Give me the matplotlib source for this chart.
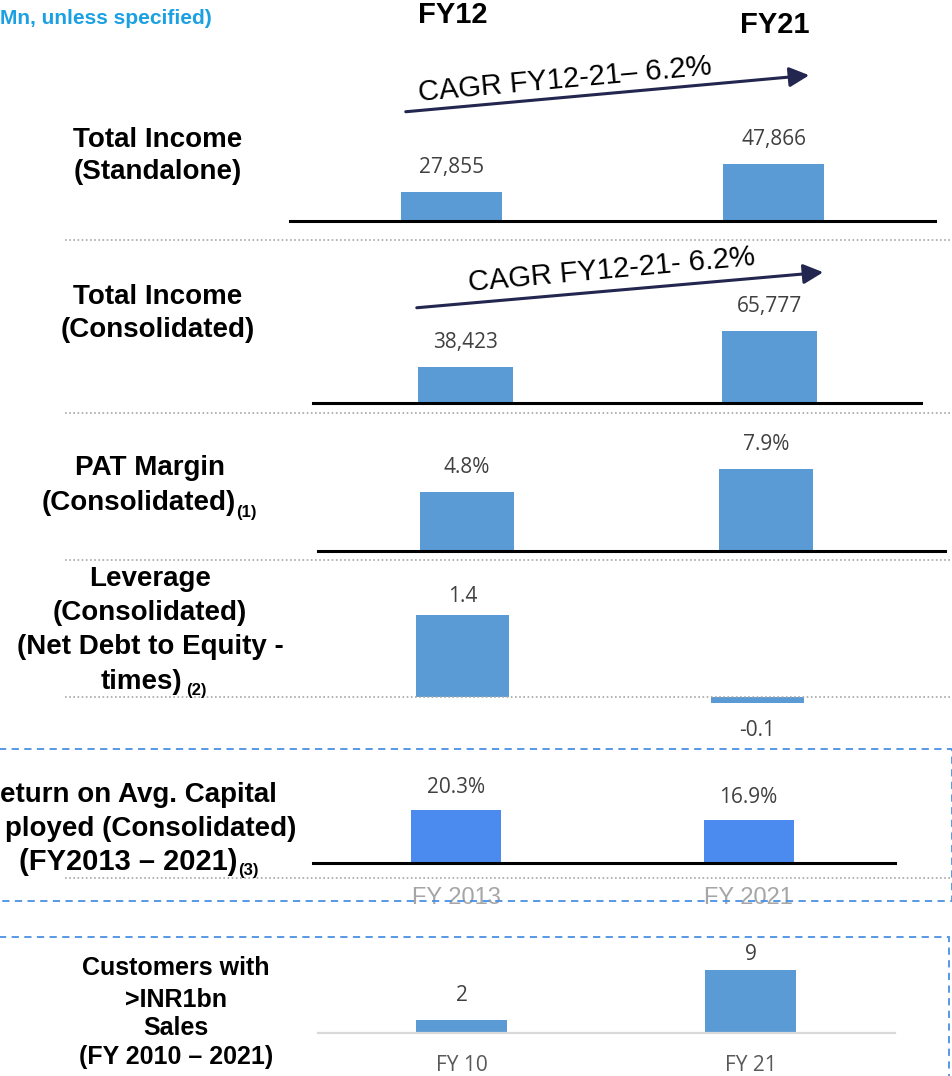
import matplotlib
matplotlib.use("Agg")
import matplotlib.pyplot as plt
from matplotlib.patches import Rectangle, FancyArrowPatch

# ---------------- data ----------------
periods_main = ["FY12", "FY21"]
total_income_standalone = [27855, 47866]
total_income_consolidated = [38423, 65777]
pat_margin = [4.8, 7.9]
leverage = [1.4, -0.1]
roace_categories = ["FY 2013", "FY 2021"]
roace = [20.3, 16.9]
customers_categories = ["FY 10", "FY 21"]
customers = [2, 9]
cagr_labels = ["CAGR FY12-21\u2013 6.2%", "CAGR FY12-21- 6.2%"]

W, H = 953, 1076
fig = plt.figure(figsize=(W / 100, H / 100), dpi=100)
fig.patch.set_facecolor("white")

ARIAL = "Liberation Sans"
LBL = "Open Sans"
BAR = "#5b9bd5"
BAR2 = "#4b8bf0"


def px_axes(x0, x1, ytop, ybot):
    ax = fig.add_axes([x0 / W, 1 - ybot / H, (x1 - x0) / W, (ybot - ytop) / H])
    ax.patch.set_alpha(0)
    return ax


def bar_panel(vals, x0, x1, ytop, ybase, c0, c1, wpx, ymin, k, color=BAR,
              fmt="{:,.0f}", offs=(25, 25), spine=("black", 2.2), cats=None,
              catcolor="#595959", catfont=LBL, catsize=14, catpad=18, from_axis=True):
    ax = px_axes(x0, x1, ytop, ybase)
    unit = c1 - c0
    xs = list(range(len(vals)))
    if from_axis:
        ax.bar(xs, [v - ymin for v in vals], bottom=ymin, width=wpx / unit, color=color, zorder=2)
    else:
        ax.bar(xs, vals, width=wpx / unit, color=color, zorder=2)
    ax.set_xlim((x0 - c0) / unit, (x1 - c0) / unit)
    ax.set_ylim(ymin, ymin + (ybase - ytop) / k)
    for s in ("top", "right", "left"):
        ax.spines[s].set_visible(False)
    if spine is None:
        ax.spines["bottom"].set_visible(False)
    else:
        ax.spines["bottom"].set_color(spine[0])
        ax.spines["bottom"].set_linewidth(spine[1])
    ax.set_yticks([])
    if cats is None:
        ax.set_xticks([])
    else:
        ax.set_xticks(xs)
        ax.set_xticklabels(cats, color=catcolor, fontsize=catsize, family=catfont)
        ax.tick_params(axis="x", length=0, pad=catpad)
    for x, v, o in zip(xs, vals, offs):
        dy = o * 72 / 100 * (1 if v >= 0 else -1)
        ax.annotate(fmt.format(v), xy=(x, v), xytext=(0, dy), textcoords="offset points",
                    ha="center", va="center", fontsize=15, family=LBL, color="#404040",
                    annotation_clip=False)
    return ax


# Panel 1: Total income standalone
bar_panel(total_income_standalone, 290, 935, 110, 221, 451.5, 773.5, 101, 7129, 0.001399)
# Panel 2: Total income consolidated
bar_panel(total_income_consolidated, 313, 921, 290, 403, 465.5, 769.5, 95, 11069, 0.001316)
# Panel 3: PAT margin
bar_panel(pat_margin, 318, 945, 430, 551, 467, 766, 94, -3.15, 7.42, fmt="{:.1f}%")
# Panel 4: Leverage
bar_panel(leverage, 313, 912, 585, 712, 462.5, 757.5, 93, -15 / 58.6, 58.6, fmt="{:.1f}",
          offs=(18, 28), spine=None, from_axis=False)
# Panel 5: ROACE
bar_panel(roace, 313, 895, 770, 863, 456, 748.5, 90, 2.28, 2.94, color=BAR2, fmt="{:.1f}%",
          offs=(23, 23), cats=roace_categories, catcolor="#a6a6a6", catfont=ARIAL,
          catsize=17, catpad=17)
# Panel 6: Customers
bar_panel(customers, 318, 895, 945, 1033, 461.5, 750.5, 91, 0.18, 7.14, fmt="{:d}",
          offs=(25, 16), spine=("#d9d9d9", 1.6), cats=customers_categories,
          catcolor="#595959", catfont=LBL, catsize=15, catpad=16)

# ---------------- overlay ----------------
ov = fig.add_axes([0, 0, 1, 1], zorder=10)
ov.set_xlim(0, W)
ov.set_ylim(H, 0)
ov.axis("off")
ov.patch.set_alpha(0)

ov.text(0, 18, "Mn, unless specified)", ha="left", va="center", fontsize=15,
        fontweight="bold", family=ARIAL, color="#1ba1e2")
ov.text(453, 15, periods_main[0], ha="center", va="center", fontsize=21, fontweight="bold", family=ARIAL)
ov.text(775, 25, periods_main[1], ha="center", va="center", fontsize=21, fontweight="bold", family=ARIAL)

# separators
for y, x0 in [(240, 65), (413, 65), (560, 65), (697, 65), (878, 65)]:
    ov.plot([x0, W], [y, y], color="#a6a6a6", lw=1.2, ls=(0, (1, 1.5)), zorder=1)

# CAGR arrows
for (xs, ys, xe, ye), (tx, ty), lab in zip(
        [(403, 112, 812, 75), (414, 308, 826, 272)], [(565, 80), (612, 270)], cagr_labels):
    ov.add_patch(FancyArrowPatch((xs, ys), (xe, ye), arrowstyle="-|>,head_length=12,head_width=6",
                                 color="#23264f", lw=2.2, mutation_scale=1, zorder=3))
    ov.text(tx, ty, lab, ha="center", va="center", rotation=5.2, fontsize=21,
            family=ARIAL, color="black", rotation_mode="anchor")

tkw = dict(ha="center", va="center", fontsize=20, fontweight="bold", family=ARIAL, color="black")
ov.text(158, 140, "Total Income", **tkw)
ov.text(158, 172, "(Standalone)", **tkw)
ov.text(158, 297, "Total Income", **tkw)
ov.text(158, 330, "(Consolidated)", **tkw)
ov.text(150, 468, "PAT Margin", **tkw)
ov.text(236, 503, "(Consolidated)", **{**tkw, "ha": "right"})
ov.text(236, 512, "(1)", ha="left", va="center", fontsize=12, fontweight="bold", family=ARIAL)
ov.text(150, 579, "Leverage", **tkw)
ov.text(150, 613, "(Consolidated)", **tkw)
ov.text(150, 647, "(Net Debt to Equity -", **tkw)
ov.text(182, 682, "times)", **{**tkw, "ha": "right"})
ov.text(186, 690, "(2)", ha="left", va="center", fontsize=12, fontweight="bold", family=ARIAL)
ov.text(277, 795, "eturn on Avg. Capital", **{**tkw, "ha": "right"})
ov.text(296, 829, "ployed (Consolidated)", **{**tkw, "ha": "right"})
ov.text(238, 862, "(FY2013 \u2013 2021)", **{**tkw, "ha": "right", "fontsize": 21})
ov.text(238, 871, "(3)", ha="left", va="center", fontsize=12, fontweight="bold", family=ARIAL)

ckw = {**tkw, "fontsize": 18}
ov.text(176, 968, "Customers with", **ckw)
ov.text(176, 1000, ">INR1bn", **ckw)
ov.text(176, 1028, "Sales", **ckw)
ov.text(176, 1057, "(FY 2010 \u2013 2021)", **ckw)

# dashed boxes
box_kw = dict(fill=False, edgecolor="#4a90e2", lw=1.3, ls=(0, (4, 3)), zorder=5)
ov.add_patch(Rectangle((-5, 749), 957, 152, **box_kw))
ov.add_patch(Rectangle((-5, 937), 954, 150, **box_kw))

fig.savefig("out.png", dpi=100, facecolor="white")
